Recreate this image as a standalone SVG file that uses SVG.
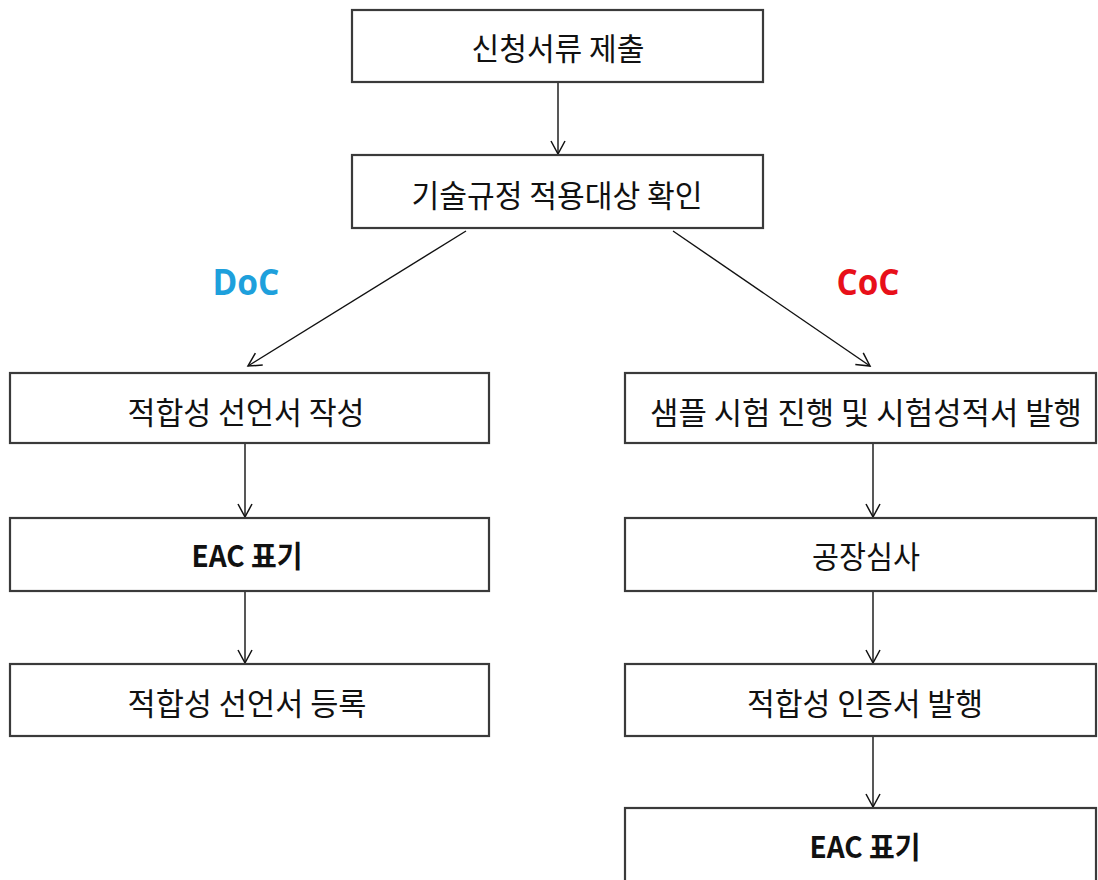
<svg xmlns="http://www.w3.org/2000/svg" width="1098" height="880" viewBox="0 0 1098 880">
<defs>
<marker id="arr" markerUnits="userSpaceOnUse" markerWidth="20" markerHeight="20" viewBox="-14 -10 16 20" refX="0" refY="0" orient="auto">
<path d="M-13,-7 L0,0 L-13,7" fill="none" stroke="#111" stroke-width="1.5"/>
</marker>
</defs>
<style>
.box{fill:#fff;stroke:#3a3a3a;stroke-width:2.2}
.t{font-family:"Malgun Gothic","Noto Sans CJK KR",sans-serif;font-size:31px;fill:#111;text-anchor:middle}
.b{font-family:"Malgun Gothic","Noto Sans CJK KR",sans-serif;font-size:30px;font-weight:bold;fill:#111;text-anchor:middle}
.lbl{font-family:"Open Sans","Noto Sans",sans-serif;font-size:36px;font-weight:bold;text-anchor:middle}
.c{fill:none;stroke:#111;stroke-width:1.4;marker-end:url(#arr)}
</style>
<rect width="1098" height="880" fill="#fff"/>
<g id="connectors">
<line class="c" x1="558" y1="82" x2="558" y2="154"/>
<line class="c" x1="466" y1="231" x2="248" y2="366"/>
<line class="c" x1="673" y1="231" x2="870" y2="366"/>
<line class="c" x1="245" y1="443" x2="245" y2="517"/>
<line class="c" x1="245" y1="591" x2="245" y2="663"/>
<line class="c" x1="873" y1="443" x2="873" y2="517"/>
<line class="c" x1="873" y1="591" x2="873" y2="663"/>
<line class="c" x1="873" y1="736" x2="873" y2="807"/>
</g>
<g id="n1"><rect class="box" x="352" y="10" width="411" height="72"/><text class="t" x="558" y="60" textLength="173" lengthAdjust="spacingAndGlyphs">신청서류 제출</text></g>
<g id="n2"><rect class="box" x="352" y="155" width="411" height="73"/><text class="t" x="557" y="207" textLength="291" lengthAdjust="spacingAndGlyphs">기술규정 적용대상 확인</text></g>
<g id="doc"><text class="lbl" x="246" y="295" fill="#1ea0dc" textLength="67" lengthAdjust="spacingAndGlyphs">DoC</text></g>
<g id="coc"><text class="lbl" x="868" y="295" fill="#e8101a" textLength="63" lengthAdjust="spacingAndGlyphs">CoC</text></g>
<g id="l1"><rect class="box" x="10" y="373" width="479" height="70"/><text class="t" x="246" y="424" textLength="237" lengthAdjust="spacingAndGlyphs">적합성 선언서 작성</text></g>
<g id="l2"><rect class="box" x="10" y="518" width="479" height="73"/><text class="b" x="247" y="567" textLength="111" lengthAdjust="spacingAndGlyphs">EAC 표기</text></g>
<g id="l3"><rect class="box" x="10" y="664" width="479" height="72"/><text class="t" x="247" y="715" textLength="239" lengthAdjust="spacingAndGlyphs">적합성 선언서 등록</text></g>
<g id="r1"><rect class="box" x="625" y="373" width="471" height="70"/><text class="t" x="866" y="424" textLength="432" lengthAdjust="spacingAndGlyphs">샘플 시험 진행 및 시험성적서 발행</text></g>
<g id="r2"><rect class="box" x="625" y="518" width="471" height="73"/><text class="t" x="866" y="568" textLength="108" lengthAdjust="spacingAndGlyphs">공장심사</text></g>
<g id="r3"><rect class="box" x="625" y="664" width="471" height="72"/><text class="t" x="865" y="715" textLength="236" lengthAdjust="spacingAndGlyphs">적합성 인증서 발행</text></g>
<g id="r4"><rect class="box" x="625" y="808" width="471" height="80"/><text class="b" x="865" y="858" textLength="111" lengthAdjust="spacingAndGlyphs">EAC 표기</text></g>
</svg>
